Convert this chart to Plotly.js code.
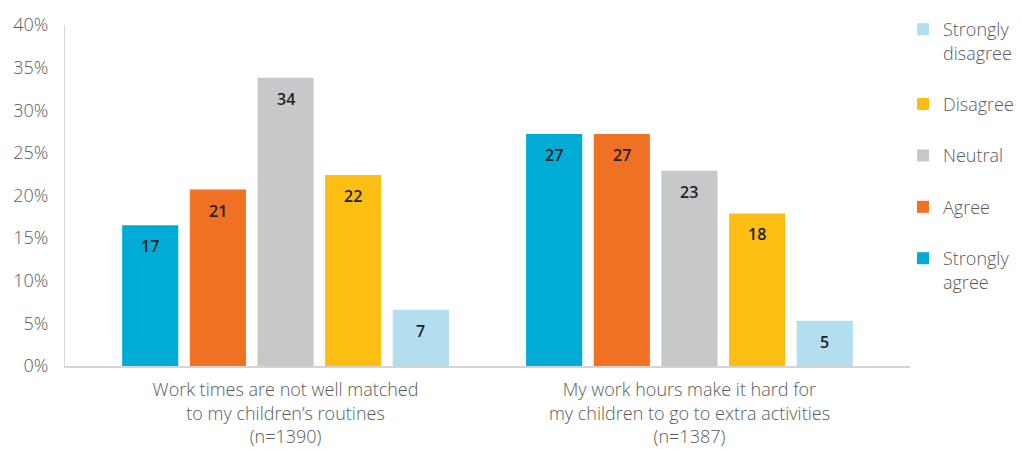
<!DOCTYPE html>
<html>
<head>
<meta charset="utf-8">
<script src="https://cdn.plot.ly/plotly-3.0.1.min.js"></script>
<style>html,body{margin:0;padding:0;background:#fff;}#chart{width:1021px;height:449px;}</style>
</head>
<body>
<div id="chart"></div>
<script>
// Data
var categories = [
  "Work times are not well matched<br>to my children’s routines<br>(n=1390)",
  "My work hours make it hard for<br>my children to go to extra activities<br>(n=1387)"
];
var seriesNames = ["Strongly agree", "Agree", "Neutral", "Disagree", "Strongly disagree"];
var legendNames = ["Strongly<br>agree", "Agree", "Neutral", "Disagree", "Strongly<br>disagree"];
var stronglyAgree = [16.5, 27.2];
var agree = [20.7, 27.2];
var neutral = [33.8, 22.9];
var disagree = [22.4, 17.9];
var stronglyDisagree = [6.6, 5.3];
var stronglyAgreeLabels = ["17", "27"];
var agreeLabels = ["21", "27"];
var neutralLabels = ["34", "23"];
var disagreeLabels = ["22", "18"];
var stronglyDisagreeLabels = ["7", "5"];
var yTickVals = [0, 5, 10, 15, 20, 25, 30, 35, 40];

var seriesValues = [stronglyAgree, agree, neutral, disagree, stronglyDisagree];
var seriesLabels = [stronglyAgreeLabels, agreeLabels, neutralLabels, disagreeLabels, stronglyDisagreeLabels];
var colors = ["#00ABD5", "#F07024", "#C7C8CA", "#FDBE14", "#B3DEF0"];

var fontFamily = "'Open Sans', Lato, sans-serif";
var textColor = "#5a5a5a";
var bargap = 0.1625, bargroupgap = 0.17;

var traces = seriesNames.map(function (n, i) {
  return {
    type: "bar",
    name: legendNames[i],
    legendgroup: n,
    legendrank: seriesNames.length - i,
    x: categories,
    y: seriesValues[i],
    marker: {color: colors[i]},
    hoverinfo: "none"
  };
});

// value labels placed inside bar tops
var nS = seriesNames.length;
var slot = (1 - bargap) / nS;
var annotations = [];
seriesValues.forEach(function (vals, si) {
  vals.forEach(function (v, gi) {
    annotations.push({
      x: gi + (si - (nS - 1) / 2) * slot,
      y: v,
      xref: "x", yref: "y",
      text: seriesLabels[si][gi],
      showarrow: false,
      yanchor: "middle",
      yshift: -21,
      font: {family: fontFamily, size: 16, color: "#222222", weight: 600}
    });
  });
});

var layout = {
  width: 1021, height: 449,
  margin: {l: 65, r: 111, t: 25, b: 83, autoexpand: false},
  paper_bgcolor: "#ffffff",
  plot_bgcolor: "#ffffff",
  barmode: "group",
  bargap: bargap,
  bargroupgap: bargroupgap,
  showlegend: true,
  font: {family: fontFamily, color: textColor},
  xaxis: {
    type: "category",
    range: [-0.546, 1.546],
    showline: true, linecolor: "#d4d4d4", linewidth: 1.5,
    ticks: "", showgrid: false, zeroline: false,
    ticklabelstandoff: 7,
    tickfont: {family: fontFamily, size: 18, color: textColor, weight: 300}
  },
  yaxis: {
    range: [0, 40],
    tickvals: yTickVals,
    ticktext: yTickVals.map(function (v) { return v + "%"; }),
    showline: true, linecolor: "#d9d9d9", linewidth: 1,
    showgrid: false, zeroline: false, ticks: "",
    ticklabelstandoff: 12,
    tickfont: {family: fontFamily, size: 18, color: textColor, weight: 300}
  },
  legend: {
    x: 0.9917, xanchor: "left",
    y: 1.041, yanchor: "top",
    traceorder: "grouped",
    tracegroupgap: 25,
    valign: "top",
    maxheight: 440,
    font: {family: fontFamily, size: 18, color: textColor, weight: 300},
    bgcolor: "rgba(0,0,0,0)"
  },
  annotations: annotations
};

Plotly.newPlot("chart", traces, layout, {displayModeBar: false, staticPlot: true});
</script>
</body>
</html>
